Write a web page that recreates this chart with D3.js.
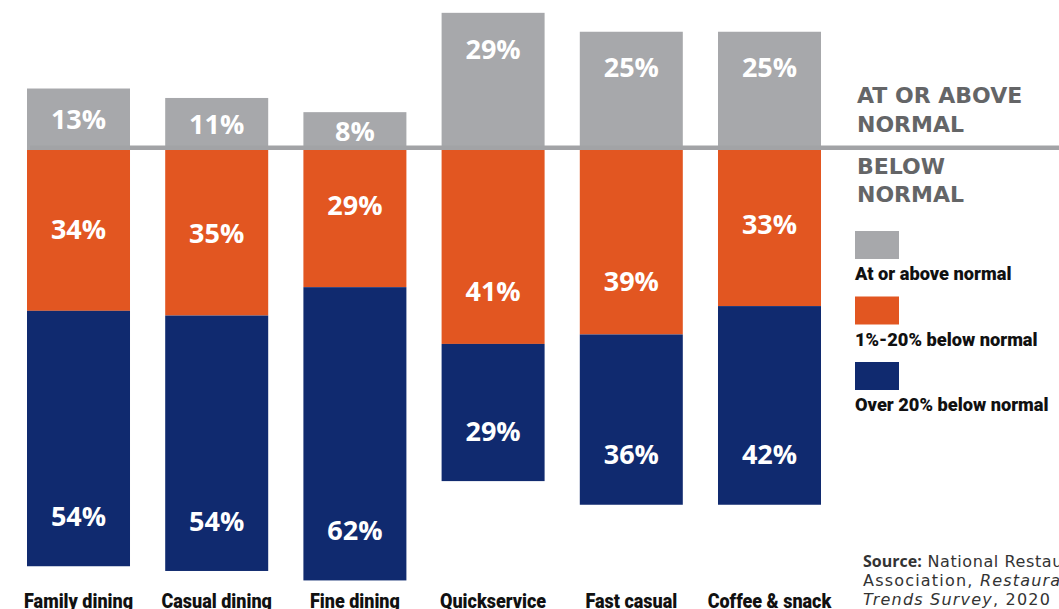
<!DOCTYPE html>
<html>
<head>
<meta charset="utf-8">
<script src="https://cdn.jsdelivr.net/npm/d3@7"></script>
<style>
  html, body { margin: 0; padding: 0; background: #fff; }
  svg { display: block; }
</style>
</head>
<body>
<svg id="chart" width="1059" height="609"></svg>
<script>
// ---- data ----
const categories = ["Family dining", "Casual dining", "Fine dining", "Quickservice", "Fast casual", "Coffee & snack"];
const atOrAbove = [13, 11, 8, 29, 25, 25];
const below1to20 = [34, 35, 29, 41, 39, 33];
const over20 = [54, 54, 62, 29, 36, 42];
const seriesNames = ["At or above normal", "1%-20% below normal", "Over 20% below normal"];
const seriesColors = ["#a7a8ab", "#e25621", "#102a6f"];

const W = 1059, H = 609;
const svg = d3.select("#chart");

const x = d3.scaleBand().domain(categories).range([9.4, 838.6]).paddingInner(0.2547).paddingOuter(0.1274);
// positive = above normal, negative = below normal
const y = d3.scaleLinear().domain([0, -100]).range([150, 623]);

const rows = categories.map((c, i) => ({
  cat: c,
  above: atOrAbove[i],
  mid: below1to20[i],
  low: over20[i]
}));

const g = svg.append("g");

// gray (above) bars
g.selectAll("rect.above").data(rows).join("rect")
  .attr("class", "above")
  .attr("x", d => x(d.cat)).attr("width", x.bandwidth())
  .attr("y", d => y(d.above)).attr("height", d => y(0) - y(d.above))
  .attr("fill", seriesColors[0]);

// orange bars
g.selectAll("rect.mid").data(rows).join("rect")
  .attr("class", "mid")
  .attr("x", d => x(d.cat)).attr("width", x.bandwidth())
  .attr("y", y(0)).attr("height", d => y(-d.mid) - y(0))
  .attr("fill", seriesColors[1]);

// navy bars
g.selectAll("rect.low").data(rows).join("rect")
  .attr("class", "low")
  .attr("x", d => x(d.cat)).attr("width", x.bandwidth())
  .attr("y", d => y(-d.mid)).attr("height", d => y(-d.mid - d.low) - y(-d.mid))
  .attr("fill", seriesColors[2]);

// baseline
g.append("rect")
  .attr("x", x(categories[0]) + 3).attr("width", W - x(categories[0]) - 3)
  .attr("y", y(0) - 4.5).attr("height", 4.5)
  .attr("fill", "#a2a3a6");

const labelFont = "'Open Sans', 'DejaVu Sans', sans-serif";
const cx = d => x(d.cat) + x.bandwidth() / 2;

// gray labels
g.selectAll("text.lab-above").data(rows).join("text")
  .attr("class", "lab-above")
  .attr("x", cx)
  .attr("y", d => Math.min((y(d.above) + y(0)) / 2, y(d.above) + 36))
  .attr("dy", "0.36em")
  .attr("text-anchor", "middle")
  .attr("font-family", labelFont).attr("font-weight", 700).attr("font-size", 27)
  .attr("fill", "#fff")
  .text(d => d.above + "%");

// orange labels
g.selectAll("text.lab-mid").data(rows).join("text")
  .attr("class", "lab-mid")
  .attr("x", cx)
  .attr("y", d => y(-d.mid) - (d.mid >= 38 ? 53 : 82))
  .attr("dy", "0.36em")
  .attr("text-anchor", "middle")
  .attr("font-family", labelFont).attr("font-weight", 700).attr("font-size", 27)
  .attr("fill", "#fff")
  .text(d => d.mid + "%");

// navy labels
g.selectAll("text.lab-low").data(rows).join("text")
  .attr("class", "lab-low")
  .attr("x", cx)
  .attr("y", d => y(-d.mid - d.low) - 50)
  .attr("dy", "0.36em")
  .attr("text-anchor", "middle")
  .attr("font-family", labelFont).attr("font-weight", 700).attr("font-size", 27)
  .attr("fill", "#fff")
  .text(d => d.low + "%");

// category labels (condensed look via horizontal scale)
const condFont = "Roboto, 'Liberation Sans', sans-serif";
g.selectAll("text.cat").data(rows).join("text")
  .attr("class", "cat")
  .attr("transform", d => `translate(${cx(d)},608) scale(0.9,1)`)
  .attr("text-anchor", "middle")
  .attr("font-family", condFont).attr("font-weight", 900).attr("font-size", 20)
  .attr("fill", "#111")
  .text(d => d.cat);

// headings on the right
const headFont = "'DejaVu Sans', sans-serif";
const heads = [["AT OR ABOVE", 103], ["NORMAL", 131.7], ["BELOW", 174], ["NORMAL", 201.7]];
svg.selectAll("text.head").data(heads).join("text")
  .attr("class", "head")
  .attr("x", 857).attr("y", d => d[1])
  .attr("font-family", headFont).attr("font-weight", 700).attr("font-size", 22)
  .attr("fill", "#646567")
  .text(d => d[0]);

// legend
const leg = svg.append("g").attr("transform", "translate(855,231)");
const li = leg.selectAll("g").data(seriesNames).join("g")
  .attr("transform", (d, i) => `translate(0,${i * 65.5})`);
li.append("rect").attr("width", 44).attr("height", 28).attr("fill", (d, i) => seriesColors[i]);
li.append("text")
  .attr("transform", "translate(0,49) scale(0.96,1)")
  .attr("font-family", condFont).attr("font-weight", 900).attr("font-size", 19)
  .attr("fill", "#111")
  .text(d => d);

// source
const srcFont = "'DejaVu Sans', sans-serif";
const src = svg.append("text")
  .attr("x", 863).attr("y", 567)
  .attr("font-family", srcFont).attr("font-size", 16).attr("letter-spacing", 0.6)
  .attr("fill", "#333");
src.append("tspan").attr("font-family", "'Open Sans', sans-serif").attr("font-weight", 700).attr("letter-spacing", 0).text("Source:");
src.append("tspan").text(" National Restaurant");
const l2 = svg.append("text").attr("x", 863).attr("y", 586)
  .attr("font-family", srcFont).attr("font-size", 16).attr("letter-spacing", 1.2).attr("fill", "#333");
l2.append("tspan").text("Association, ");
l2.append("tspan").attr("font-style", "italic").text("Restaurant");
const l3 = svg.append("text").attr("x", 863).attr("y", 605)
  .attr("font-family", srcFont).attr("font-size", 16).attr("letter-spacing", 1.2).attr("fill", "#333");
l3.append("tspan").attr("font-style", "italic").text("Trends Survey");
l3.append("tspan").text(", 2020");
</script>
</body>
</html>
